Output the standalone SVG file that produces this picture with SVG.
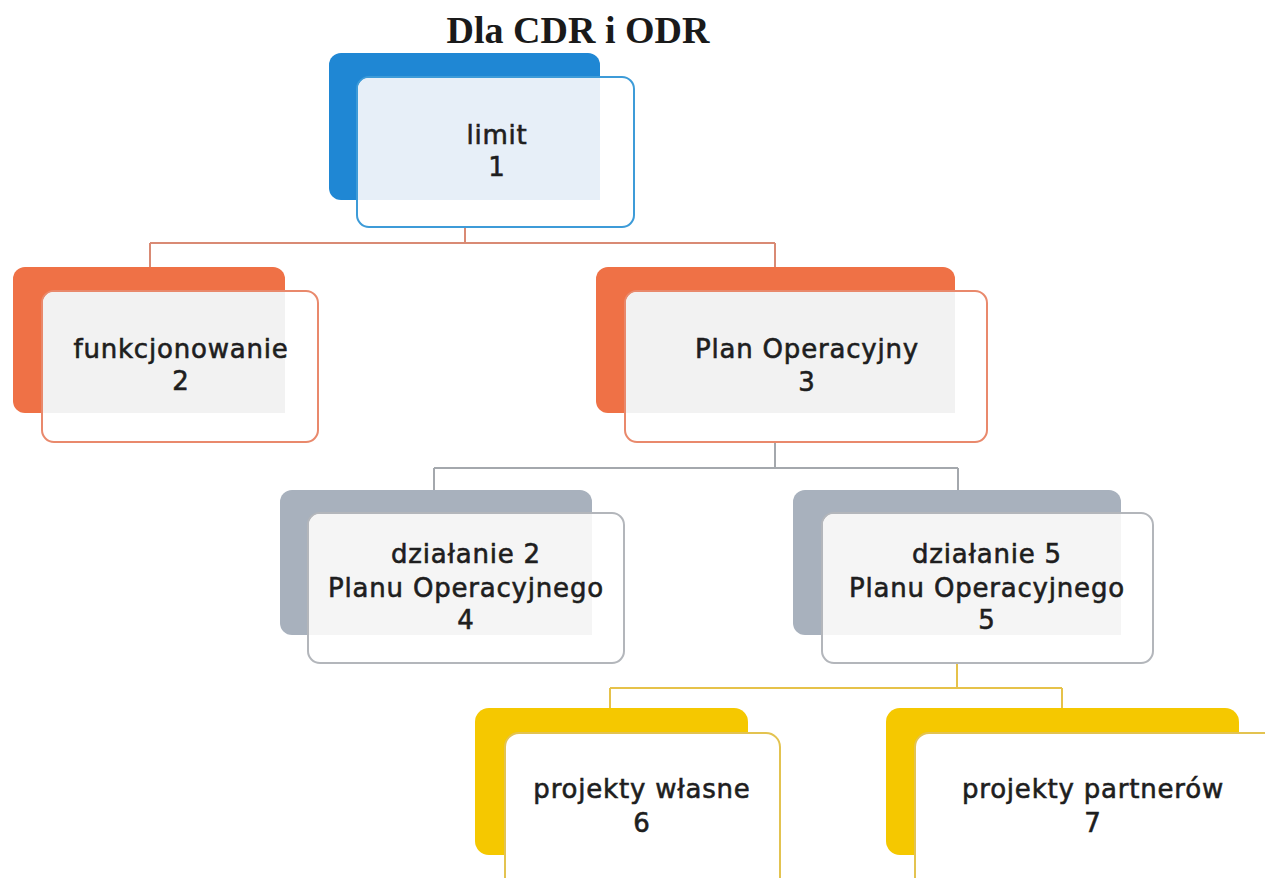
<svg xmlns="http://www.w3.org/2000/svg" width="1265" height="878" viewBox="0 0 1265 878">
<style>
.title{font-family:"Liberation Serif","Times New Roman",serif;font-weight:bold;font-size:38px;fill:#1a1a1a;text-anchor:middle}
.lbl{font-family:"DejaVu Sans","Verdana",sans-serif;font-size:26px;letter-spacing:0.8px;fill:#1e1e1e;stroke:#1e1e1e;stroke-width:0.6px;text-anchor:middle}
.front{fill:#fff;stroke-width:2}
.conn{fill:none;stroke-width:2}
</style>
<rect width="1265" height="878" fill="#fff"/>
<text class="title" x="578" y="43">Dla CDR i ODR</text>
<g id="connectors">
<path class="conn" stroke="#d98a74" d="M465,227 V243 M150,243 H775 M150,243 V267 M775,243 V267"/>
<path class="conn" stroke="#a4a8ad" d="M775,442 V468 M434,468 H958 M434,468 V490 M958,468 V490"/>
<path class="conn" stroke="#e6c24a" d="M957,663 V688 M610,688 H1062 M610,688 V708 M1062,688 V708"/>
</g>
<g id="node1">
<rect x="329" y="53" width="271" height="147" rx="12" fill="#1f87d4"/>
<rect class="front" x="357" y="77" width="277" height="150" rx="12" stroke="#3d9bd8"/>
<path d="M358,89 a11,11 0 0 1 11,-11 H600 V200 H358 Z" fill="#e7eff8"/>
<text class="lbl" x="497" y="144">limit</text>
<text class="lbl" x="497" y="176">1</text>
</g>
<g id="node2">
<rect x="13" y="267" width="272" height="146" rx="12" fill="#ef7146"/>
<rect class="front" x="42" y="291" width="276" height="151" rx="12" stroke="#e9896c"/>
<path d="M43,303 a11,11 0 0 1 11,-11 H285 V413 H43 Z" fill="#f2f2f2"/>
<text class="lbl" x="181" y="358">funkcjonowanie</text>
<text class="lbl" x="181" y="390">2</text>
</g>
<g id="node3">
<rect x="596" y="267" width="359" height="146" rx="12" fill="#ef7146"/>
<rect class="front" x="625" y="291" width="362" height="151" rx="12" stroke="#e9896c"/>
<path d="M626,303 a11,11 0 0 1 11,-11 H955 V413 H626 Z" fill="#f2f2f2"/>
<text class="lbl" x="807" y="358">Plan Operacyjny</text>
<text class="lbl" x="807" y="391">3</text>
</g>
<g id="node4">
<rect x="280" y="490" width="312" height="145" rx="12" fill="#a8b1bd"/>
<rect class="front" x="308" y="513" width="316" height="150" rx="12" stroke="#b3b6bb"/>
<path d="M309,525 a11,11 0 0 1 11,-11 H592 V635 H309 Z" fill="#f5f5f5"/>
<text class="lbl" x="466" y="563">działanie 2</text>
<text class="lbl" x="466" y="597">Planu Operacyjnego</text>
<text class="lbl" x="466" y="629">4</text>
</g>
<g id="node5">
<rect x="793" y="490" width="328" height="145" rx="12" fill="#a8b1bd"/>
<rect class="front" x="822" y="513" width="331" height="150" rx="12" stroke="#b3b6bb"/>
<path d="M823,525 a11,11 0 0 1 11,-11 H1121 V635 H823 Z" fill="#f5f5f5"/>
<text class="lbl" x="987" y="563">działanie 5</text>
<text class="lbl" x="987" y="597">Planu Operacyjnego</text>
<text class="lbl" x="987" y="629">5</text>
</g>
<g id="node6">
<rect x="475" y="708" width="273" height="147" rx="14" fill="#f5c800"/>
<rect class="front" x="505" y="733" width="275" height="160" rx="14" stroke="#e3c350"/>
<text class="lbl" x="642" y="798">projekty własne</text>
<text class="lbl" x="642" y="832">6</text>
</g>
<g id="node7">
<rect x="886" y="708" width="353" height="147" rx="14" fill="#f5c800"/>
<rect class="front" x="915" y="733" width="370" height="160" rx="14" stroke="#e3c350"/>
<text class="lbl" x="1093" y="798">projekty partnerów</text>
<text class="lbl" x="1093" y="832">7</text>
</g>
</svg>
